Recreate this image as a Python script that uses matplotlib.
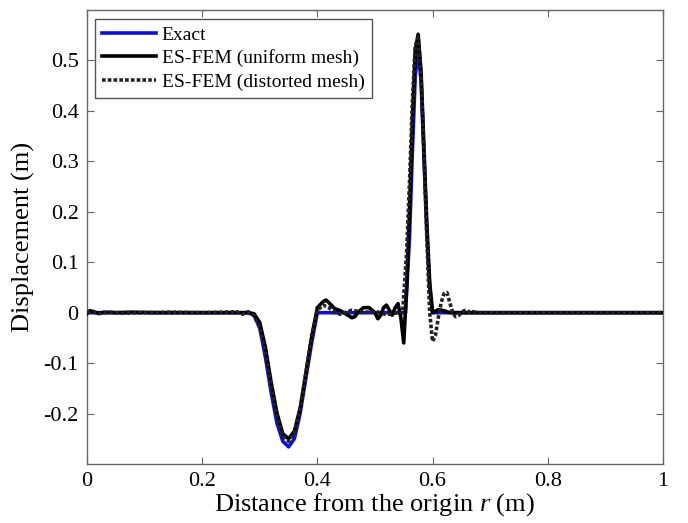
import matplotlib.pyplot as plt

plt.rcParams["font.family"] = ["Liberation Serif", "DejaVu Serif"]
plt.rcParams["mathtext.fontset"] = "custom"
plt.rcParams["mathtext.it"] = "Liberation Serif:italic"
plt.rcParams["mathtext.rm"] = "Liberation Serif"

# exact solution
r_exact = [0.0, 0.28, 0.29, 0.30, 0.31, 0.32, 0.33, 0.34, 0.35, 0.36, 0.37,
           0.38, 0.39, 0.40, 0.553, 0.56, 0.565, 0.57, 0.575, 0.58, 0.585,
           0.59, 0.595, 0.60, 1.0]
u_exact = [0.0, 0.0, -0.005, -0.03, -0.09, -0.16, -0.22, -0.255, -0.266, -0.25,
           -0.2, -0.13, -0.06, 0.0, 0.0, 0.15, 0.32, 0.47, 0.52, 0.46, 0.31,
           0.16, 0.05, 0.0, 0.0]

# ES-FEM, uniform mesh
r_uniform = [0.0, 0.005, 0.012, 0.02, 0.03, 0.05, 0.08, 0.12, 0.16, 0.20,
             0.24, 0.27, 0.28, 0.29, 0.30, 0.31, 0.32, 0.33, 0.34, 0.35, 0.36,
             0.37, 0.38, 0.39, 0.40, 0.41, 0.415, 0.42, 0.43, 0.44, 0.45,
             0.46, 0.465, 0.47, 0.48, 0.49, 0.50, 0.505, 0.51, 0.515, 0.52,
             0.525, 0.53, 0.535, 0.54, 0.545, 0.55, 0.555, 0.56, 0.565, 0.57,
             0.575, 0.58, 0.585, 0.59, 0.595, 0.60, 0.605, 0.61, 0.62, 0.63,
             0.65, 1.0]
u_uniform = [-0.002, 0.004, 0.001, -0.001, 0.001, 0.0, 0.001, 0.0, 0.0, 0.0,
             0.0, 0.0, 0.0, -0.002, -0.02, -0.07, -0.14, -0.2, -0.24, -0.25,
             -0.235, -0.19, -0.12, -0.05, 0.01, 0.022, 0.025, 0.02, 0.008,
             0.004, -0.003, -0.01, -0.008, 0.0, 0.01, 0.01, 0.0, -0.012,
             -0.005, 0.01, 0.015, 0.005, -0.005, 0.01, 0.018, -0.01, -0.06,
             0.05, 0.2, 0.38, 0.52, 0.552, 0.48, 0.33, 0.18, 0.06, 0.0, 0.003,
             0.006, 0.004, 0.0, 0.0, 0.0]

# ES-FEM, distorted mesh
r_distorted = [0.0, 0.01, 0.02, 0.04, 0.06, 0.10, 0.15, 0.20, 0.24, 0.26,
               0.27, 0.28, 0.29, 0.30, 0.31, 0.32, 0.33, 0.34, 0.35, 0.36,
               0.37, 0.38, 0.39, 0.40, 0.41, 0.42, 0.43, 0.44, 0.46, 0.48,
               0.50, 0.52, 0.54, 0.548, 0.555, 0.56, 0.565, 0.57, 0.575, 0.58,
               0.585, 0.59, 0.595, 0.60, 0.605, 0.61, 0.615, 0.62, 0.625, 0.63,
               0.635, 0.64, 0.645, 0.65, 0.655, 0.66, 0.665, 0.67, 0.68, 1.0]
u_distorted = [0.0, 0.003, -0.002, 0.001, -0.001, 0.0, 0.001, 0.0, 0.001,
               0.002, -0.003, 0.002, -0.006, -0.03, -0.08, -0.15, -0.21,
               -0.245, -0.255, -0.24, -0.19, -0.12, -0.045, 0.005, 0.015,
               0.01, 0.0, -0.003, 0.005, 0.0, 0.003, -0.004, 0.0, 0.0, 0.12,
               0.26, 0.42, 0.53, 0.545, 0.47, 0.32, 0.15, 0.0, -0.057, -0.045,
               -0.01, 0.02, 0.038, 0.04, 0.02, 0.0, -0.008, -0.006, 0.0,
               0.004, 0.005, 0.0, 0.002, 0.0, 0.0]

x_ticks = [0, 0.2, 0.4, 0.6, 0.8, 1]
x_tick_labels = ["0", "0.2", "0.4", "0.6", "0.8", "1"]
y_ticks = [-0.2, -0.1, 0, 0.1, 0.2, 0.3, 0.4, 0.5]
y_tick_labels = ["-0.2", "-0.1", "0", "0.1", "0.2", "0.3", "0.4", "0.5"]

fig = plt.figure(figsize=(6.88, 5.23), dpi=100)
ax = fig.add_axes([0.1265, 0.1128, 0.837, 0.868])

ax.plot(r_exact, u_exact, color="#1010d0", lw=2.6, label="Exact", zorder=2)
ax.plot(r_uniform, u_uniform, color="black", lw=2.6,
        label="ES-FEM (uniform mesh)", zorder=3)
ax.plot(r_distorted, u_distorted, color="#222222", lw=2.6, ls=(0, (1, 0.6)),
        label="ES-FEM (distorted mesh)", zorder=4)

ax.set_xlim(0, 1)
ax.set_ylim(-0.3, 0.6)
ax.set_xticks(x_ticks)
ax.set_xticklabels(x_tick_labels)
ax.set_yticks(y_ticks)
ax.set_yticklabels(y_tick_labels)
ax.tick_params(direction="in", top=True, right=True, length=5,
               color="#666666", labelsize=16, pad=6)
for spine in ax.spines.values():
    spine.set_color("#666666")
    spine.set_linewidth(1.0)

ax.set_xlabel("Distance from the origin $r$ (m)", fontsize=19, labelpad=0)
ax.set_ylabel("Displacement (m)", fontsize=19, labelpad=6)

leg = ax.legend(loc="upper left", fontsize=14, handlelength=2.8,
                fancybox=False, framealpha=1, borderpad=0.35,
                labelspacing=0.3, handletextpad=0.3, borderaxespad=0,
                bbox_to_anchor=(0.0135, 0.98))
leg.get_frame().set_edgecolor("#555555")
leg.get_frame().set_linewidth(1.0)

fig.savefig("out.png", dpi=100)
